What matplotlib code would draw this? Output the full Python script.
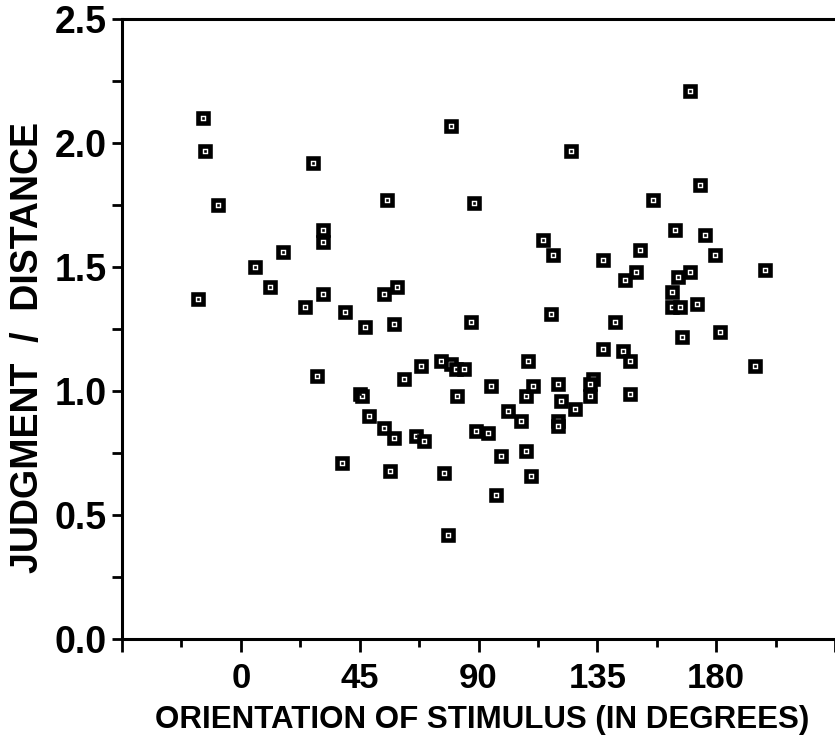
import matplotlib
matplotlib.use("Agg")
import matplotlib.pyplot as plt
from matplotlib.ticker import MultipleLocator

# orientation (deg) and judgment/distance ratio
orientation = [-14.3, -13.4, -8.6, -16.2, 5.3, 11.1, 15.8, 24.3, 27.4, 28.9,
               31.1, 31.1, 31.0, 39.3, 38.4, 45.1, 46.0, 47.0, 48.7, 54.4,
               55.4, 54.4, 56.3, 58.1, 58.1, 59.1, 61.8, 66.4, 69.3, 68.4,
               75.8, 76.9, 78.6, 79.6, 79.7, 81.3, 84.5, 81.7, 87.2, 88.2,
               89.1, 93.6, 94.7, 96.5, 98.6, 101.3, 106.0, 107.9, 107.9, 108.8,
               109.8, 110.8, 114.6, 117.4, 118.2, 120.0, 121.2, 120.0, 120.0, 124.9,
               126.6, 132.3, 133.2, 132.1, 137.1, 137.0, 141.7, 144.6, 145.5, 147.3,
               147.3, 149.5, 151.2, 155.9, 163.4, 164.5, 165.4, 163.4, 166.2, 167.2,
               170.1, 170.2, 172.7, 173.9, 175.7, 179.4, 181.4, 194.6, 198.5]
ratio = [2.10, 1.97, 1.75, 1.37, 1.50, 1.42, 1.56, 1.34, 1.92, 1.06,
         1.65, 1.60, 1.39, 1.32, 0.71, 0.99, 0.98, 1.26, 0.90, 1.39,
         1.77, 0.85, 0.68, 0.81, 1.27, 1.42, 1.05, 0.82, 0.80, 1.10,
         1.12, 0.67, 0.42, 1.11, 2.07, 1.09, 1.09, 0.98, 1.28, 1.76,
         0.84, 0.83, 1.02, 0.58, 0.74, 0.92, 0.88, 0.76, 0.98, 1.12,
         0.66, 1.02, 1.61, 1.31, 1.55, 1.03, 0.96, 0.88, 0.86, 1.97,
         0.93, 0.98, 1.05, 1.03, 1.53, 1.17, 1.28, 1.16, 1.45, 1.12,
         0.99, 1.48, 1.57, 1.77, 1.40, 1.65, 1.46, 1.34, 1.34, 1.22,
         1.48, 2.21, 1.35, 1.83, 1.63, 1.55, 1.24, 1.10, 1.49]

x_ticks = [-45, 0, 45, 90, 135, 180, 225]
x_ticklabels = ["", "0", "45", "90", "135", "180", ""]
y_ticks = [0.0, 0.5, 1.0, 1.5, 2.0, 2.5]
y_ticklabels = ["0.0", "0.5", "1.0", "1.5", "2.0", "2.5"]

font = ["Liberation Sans", "DejaVu Sans"]

fig = plt.figure(figsize=(8.35, 7.36), dpi=100)
ax = fig.add_axes([122 / 835, (736 - 639.3) / 736, 1 - 122 / 835, (639.3 - 19) / 736])

ax.plot(orientation, ratio, linestyle="none", marker="s", markersize=7.8,
        markerfacecolor="white", markeredgecolor="black", markeredgewidth=3.3,
        clip_on=False)
ax.plot(orientation, ratio, linestyle="none", marker="s", markersize=1.7,
        markerfacecolor="black", markeredgecolor="black", markeredgewidth=0.4,
        clip_on=False)

ax.set_xlim(-45, 225)
ax.set_ylim(0, 2.5)

ax.spines["right"].set_visible(False)
for side in ["left", "bottom", "top"]:
    ax.spines[side].set_linewidth(2.2)

ax.set_xticks(x_ticks)
ax.set_xticklabels(x_ticklabels, fontfamily=font, fontweight="bold", fontsize=25)
ax.xaxis.set_minor_locator(MultipleLocator(22.5))
ax.set_yticks(y_ticks)
ax.set_yticklabels(y_ticklabels, fontfamily=font, fontweight="bold", fontsize=27)
ax.yaxis.set_minor_locator(MultipleLocator(0.25))

ax.tick_params(axis="x", which="major", length=9, width=2, pad=7, direction="out")
ax.tick_params(axis="x", which="minor", length=6, width=2, direction="out")
ax.tick_params(axis="y", which="both", length=7, width=2, pad=4, direction="out")

ax.set_xlabel("ORIENTATION OF STIMULUS (IN DEGREES)", fontfamily=font,
              fontweight="bold", fontsize=22.5, va="center")
ax.xaxis.set_label_coords(0.505, -0.13)
ax.set_ylabel("JUDGMENT  /  DISTANCE", fontfamily=font, fontweight="bold",
              fontsize=27, va="center")
ax.yaxis.set_label_coords(-0.132, 0.471)

fig.savefig("out.png", dpi=100)
